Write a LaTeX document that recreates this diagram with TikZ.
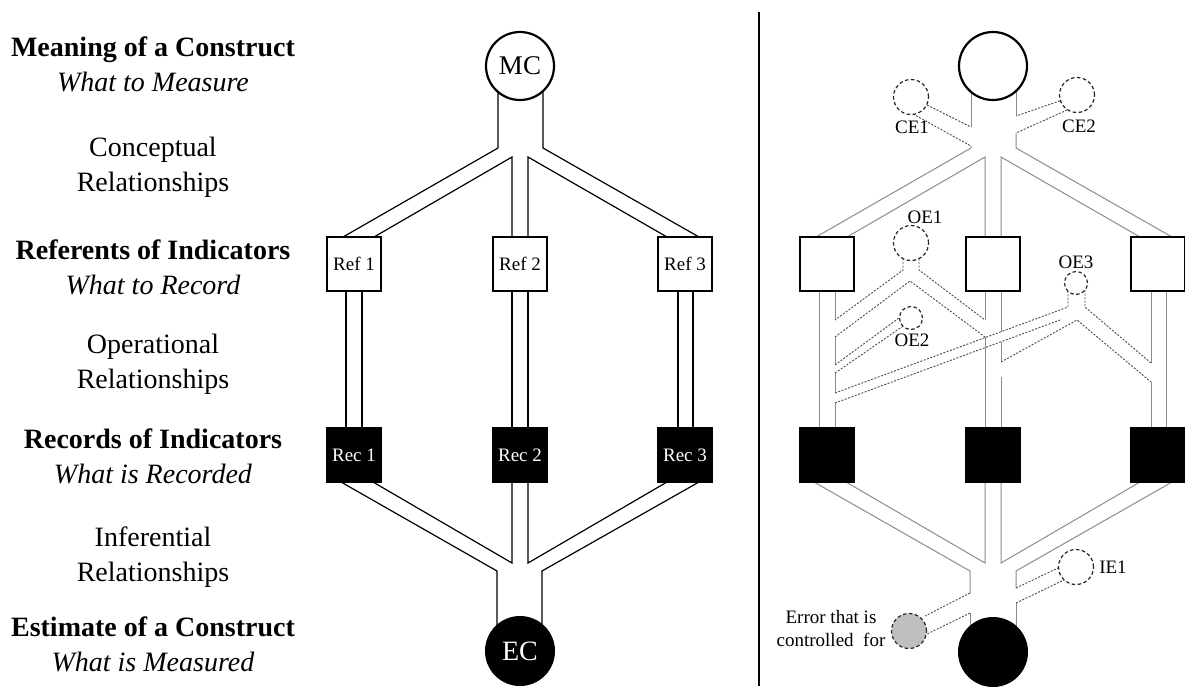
\documentclass[tikz,border=0pt]{standalone}
\usepackage{fontspec}
\setmainfont{Liberation Serif}
\pgfdeclarelayer{back}
\pgfdeclarelayer{bg}
\pgfsetlayers{back,bg,main}
\begin{document}
\begin{tikzpicture}[x=1pt,y=-1pt,
 lbl/.style={font=\fontsize{28}{35}\selectfont, align=center, inner sep=0pt},
 band/.style={line width=1.2pt, draw=black},
 gband/.style={line width=1pt, draw=black!45},
 eband/.style={line width=0.9pt, draw=black!70, dash pattern=on 2pt off 1.5pt},
 cons/.style={circle, draw=black, line width=2.2pt, minimum size=68pt, inner sep=0pt, fill=white, font=\fontsize{27}{30}\selectfont},
 est/.style={circle, draw=black, fill=black, text=white, line width=1pt, minimum size=69pt, inner sep=0pt, font=\fontsize{28}{30}\selectfont},
 refbox/.style={rectangle, draw=black, line width=2pt, fill=white, minimum size=54pt, inner sep=0pt, font=\fontsize{19}{22}\selectfont},
 recbox/.style={rectangle, draw=black, fill=black, text=white, line width=1pt, minimum size=55pt, inner sep=0pt, font=\fontsize{19}{22}\selectfont},
 errc/.style={circle, draw=black!85, fill=white, dash pattern=on 3.5pt off 2.5pt, line width=1.2pt, minimum size=35pt, inner sep=0pt},
 errs/.style={errc, minimum size=23pt},
 small/.style={font=\fontsize{19}{23}\selectfont, inner sep=0pt, align=center}
]
\begin{pgfonlayer}{back}
\fill[white] (0,0) rectangle (1185,686);
\end{pgfonlayer}
\useasboundingbox (0,0) rectangle (1185,686);

% ---------- left labels ----------
\node[lbl] (t1) at (153,64) {\textbf{Meaning of a Construct}\\\textit{What to Measure}};
\node[lbl] (t2) at (153,167) {Conceptual\\Relationships};
\node[lbl] (t3) at (153,267) {\textbf{Referents of Indicators}\\\textit{What to Record}};
\node[lbl] (t4) at (153,364) {Operational\\Relationships};
\node[lbl] (t5) at (153,456) {\textbf{Records of Indicators}\\\textit{What is Recorded}};
\node[lbl] (t6) at (153,557) {Inferential\\Relationships};
\node[lbl] (t7) at (153,644) {\textbf{Estimate of a Construct}\\\textit{What is Measured}};

% ---------- left diagram ----------
\node[cons] (mc) at (520,66) {MC};
\node[refbox] (ref1) at (354,264) {Ref 1};
\node[refbox] (ref2) at (520,264) {Ref 2};
\node[refbox] (ref3) at (685,264) {Ref 3};
\node[recbox] (rec1) at (354,455) {Rec 1};
\node[recbox] (rec2) at (520,455) {Rec 2};
\node[recbox] (rec3) at (685,455) {Rec 3};
\node[est] (ec) at (520,651) {EC};

\begin{pgfonlayer}{bg}
\draw[band] (498,80) -- (498,148) -- (343,237);
\draw[band] (543,80) -- (543,148) -- (699,237);
\draw[band] (374,237) -- (512,157) -- (512,237);
\draw[band] (528,237) -- (528,157) -- (667,237);
\foreach \x in {346,362,512,528,678,693} \draw[band] (\x,290) -- (\x,430);
\draw[band] (341,482) -- (497,571) -- (497,640);
\draw[band] (373,482) -- (512,563) -- (512,482);
\draw[band] (528,482) -- (528,563) -- (667,482);
\draw[band] (699,482) -- (542,571) -- (542,640);
\end{pgfonlayer}

% ---------- divider ----------
\coordinate (dtop) at (759,12);
\coordinate (dbot) at (759,686);
\draw[line width=2.5pt] (dtop) -- (dbot);

% ---------- right diagram ----------
\node[cons] (mcb) at (993,66) {};
\node[refbox] (refb1) at (827,264) {};
\node[refbox] (refb2) at (993,264) {};
\node[refbox] (refb3) at (1158,264) {};
\node[recbox] (recb1) at (827,455) {};
\node[recbox] (recb2) at (993,455) {};
\node[recbox] (recb3) at (1158,455) {};
\node[est] (ecb) at (993,652) {};

\node[errc] (ce1) at (911,97) {};
\node[small] (ce1l) at (912,127) {CE1};
\node[errc] (ce2) at (1077,95) {};
\node[small] (ce2l) at (1079,126) {CE2};
\node[errc] (oe1) at (911,243) {};
\node[small] (oe1l) at (925,217) {OE1};
\node[errs] (oe2) at (911,318) {};
\node[small] (oe2l) at (912,340) {OE2};
\node[errs] (oe3) at (1076,283) {};
\node[small] (oe3l) at (1076,262) {OE3};
\node[errc] (ie1) at (1076,567) {};
\node[small] (ie1l) at (1113,567) {IE1};
\node[errc, fill=black!25] (ctl) at (909,631) {};
\node[small] (ctll) at (831,628) {Error that is\\controlled\ \ for};

\begin{pgfonlayer}{bg}
% conceptual
\draw[gband] (971,80) -- (971,127);
\draw[gband] (971,146) -- (971,148) -- (816,237);
\draw[gband] (1016,80) -- (1016,116);
\draw[gband] (1016,133) -- (1016,148) -- (1172,237);
\draw[gband] (847,237) -- (985,157) -- (985,237);
\draw[gband] (1001,237) -- (1001,157) -- (1140,237);
\draw[eband] (ce1) -- (971,127);
\draw[eband] (913,114) -- (971,146);
\draw[eband] (ce2) -- (1016,116);
\draw[eband] (1067,110) -- (1016,133);
% operational: vertical band lines
\draw[gband] (819,290) -- (819,430);
\draw[gband] (835,290) -- (835,320);
\draw[gband] (835,337) -- (835,365);
\draw[gband] (835,373) -- (835,393);
\draw[gband] (835,403) -- (835,430);
\draw[gband] (985,290) -- (985,320);
\draw[gband] (985,337) -- (985,430);
\draw[gband] (1001,290) -- (1001,332);
\draw[gband] (1001,342) -- (1001,362);
\draw[gband] (1001,377) -- (1001,430);
\draw[gband] (1151,290) -- (1151,363);
\draw[gband] (1151,382) -- (1151,430);
\draw[gband] (1166,290) -- (1166,430);
% OE1
\draw[eband] (903,255) -- (903,270) -- (835,320);
\draw[eband] (919,255) -- (919,270) -- (985,320);
\draw[eband] (835,337) -- (910,281) -- (985,337);
% OE2
\draw[eband] (835,365) -- (oe2.west);
\draw[eband] (835,373) -- (oe2.south west);
% OE3
\draw[eband] (835,393) -- (1068,307) -- (1068,290);
\draw[eband] (835,403) -- (1060,320);
\draw[eband] (1085,290) -- (1085,307) -- (1151,363);
\draw[eband] (1001,362) -- (1077,320) -- (1151,382);
% inferential
\draw[gband] (814,482) -- (970,571) -- (970,593);
\draw[gband] (970,613) -- (970,640);
\draw[gband] (846,482) -- (985,563) -- (985,482);
\draw[gband] (1001,482) -- (1001,563) -- (1140,482);
\draw[gband] (1172,482) -- (1016,571) -- (1016,588);
\draw[gband] (1016,603) -- (1016,640);
\draw[eband] (970,593) -- (925,616);
\draw[eband] (970,613) -- (927,634);
\draw[eband] (1016,588) -- (1060,567);
\draw[eband] (1016,603) -- (1066,579);
\end{pgfonlayer}
\end{tikzpicture}
\end{document}
